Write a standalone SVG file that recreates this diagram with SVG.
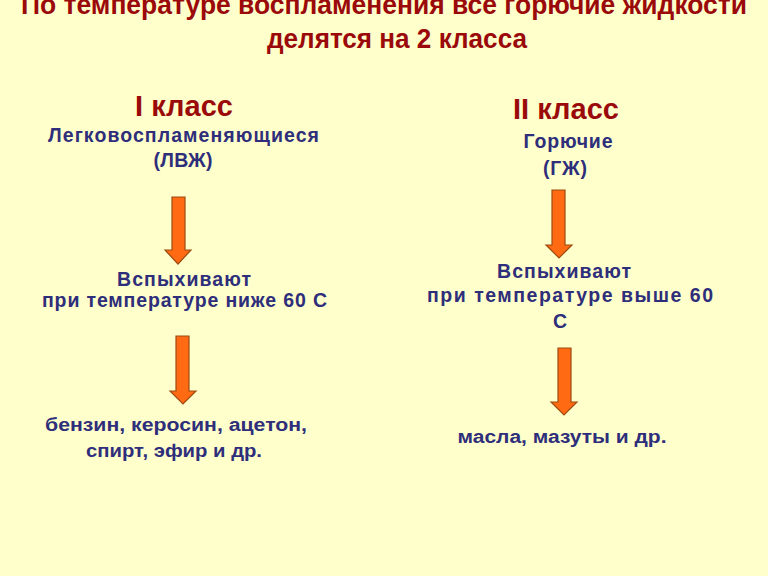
<svg xmlns="http://www.w3.org/2000/svg" width="768" height="576" viewBox="0 0 768 576">
<defs>
<style>
.t{font-family:"Liberation Sans",Arial,sans-serif;font-weight:bold;text-anchor:middle}
.red{fill:#9b0a0a}
.blue{fill:#2e2e7a;font-size:19.5px}
.ex{font-size:18px}
.h{font-size:29px}
.arr{fill:#ff6a13;stroke:#9c4a10;stroke-width:1.2}
</style>
</defs>
<rect width="768" height="576" fill="#ffffcc"/>
<g id="title">
<text class="t red" x="384" y="14" font-size="27" textLength="726" lengthAdjust="spacingAndGlyphs">По температуре воспламенения все горючие жидкости</text>
<text class="t red" x="397" y="48" font-size="27" textLength="260" lengthAdjust="spacingAndGlyphs">делятся на 2 класса</text>
</g>
<g id="class1">
<text class="t red h" x="184" y="116">I класс</text>
<text class="t blue" x="183.5" y="142" textLength="271" lengthAdjust="spacing">Легковоспламеняющиеся</text>
<text class="t blue" x="183" y="167" textLength="59" lengthAdjust="spacing">(ЛВЖ)</text>
</g>
<g id="class2">
<text class="t red h" x="566" y="119">II класс</text>
<text class="t blue" x="568" y="148" textLength="89" lengthAdjust="spacing">Горючие</text>
<text class="t blue" x="565" y="175" textLength="44" lengthAdjust="spacing">(ГЖ)</text>
</g>
<g id="flash1">
<text class="t blue" x="184" y="286" textLength="134" lengthAdjust="spacing">Вспыхивают</text>
<text class="t blue" x="184.5" y="307" textLength="285" lengthAdjust="spacing">при температуре ниже 60 С</text>
</g>
<g id="flash2">
<text class="t blue" x="564" y="278" textLength="134" lengthAdjust="spacing">Вспыхивают</text>
<text class="t blue" x="570" y="302" textLength="286" lengthAdjust="spacing">при температуре выше 60</text>
<text class="t blue" x="560" y="328">С</text>
</g>
<g id="ex1">
<text class="t blue ex" x="176" y="431" textLength="262" lengthAdjust="spacingAndGlyphs">бензин, керосин, ацетон,</text>
<text class="t blue ex" x="174" y="457" textLength="176" lengthAdjust="spacingAndGlyphs">спирт, эфир и др.</text>
</g>
<g id="ex2">
<text class="t blue ex" x="562" y="443" textLength="209" lengthAdjust="spacingAndGlyphs">масла, мазуты и др.</text>
</g>
<g id="connectors">
<polygon class="arr" points="172,197 185,197 185,250 191,250 178,264 165,250 172,250"/>
<polygon class="arr" points="552,190 565,190 565,245 572,245 559,258 546,245 552,245"/>
<polygon class="arr" points="176,336 189,336 189,391 196,391 183,404 170,391 176,391"/>
<polygon class="arr" points="558,348 571,348 571,402 577,402 564,415 551,402 558,402"/>
</g>
</svg>
